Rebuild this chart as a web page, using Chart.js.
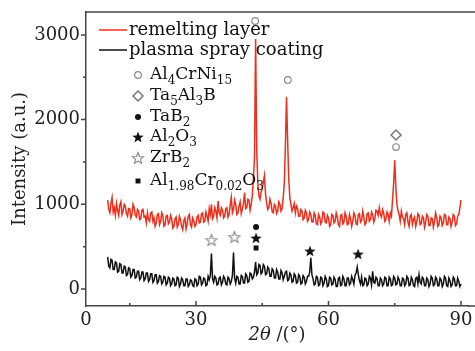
<!DOCTYPE html>
<html>
<head>
<meta charset="utf-8">
<script src="https://cdn.jsdelivr.net/npm/chart.js@4.4.1/dist/chart.umd.min.js"></script>
<style>
  html, body { margin: 0; padding: 0; background: #fff; }
  #wrap { width: 475px; height: 351px; }
</style>
</head>
<body>
<div id="wrap"><canvas id="xrd"></canvas></div>
<script>
// 2θ sampling (degrees), 0.25° step
const twoTheta = [
  10, 10.25, 10.5, 10.75, 11, 11.25, 11.5, 11.75, 12, 12.25, 12.5, 12.75, 13, 13.25, 13.5, 13.75, 14, 14.25, 14.5, 14.75,
  15, 15.25, 15.5, 15.75, 16, 16.25, 16.5, 16.75, 17, 17.25, 17.5, 17.75, 18, 18.25, 18.5, 18.75, 19, 19.25, 19.5, 19.75,
  20, 20.25, 20.5, 20.75, 21, 21.25, 21.5, 21.75, 22, 22.25, 22.5, 22.75, 23, 23.25, 23.5, 23.75, 24, 24.25, 24.5, 24.75,
  25, 25.25, 25.5, 25.75, 26, 26.25, 26.5, 26.75, 27, 27.25, 27.5, 27.75, 28, 28.25, 28.5, 28.75, 29, 29.25, 29.5, 29.75,
  30, 30.25, 30.5, 30.75, 31, 31.25, 31.5, 31.75, 32, 32.25, 32.5, 32.75, 33, 33.25, 33.5, 33.75, 34, 34.25, 34.5, 34.75,
  35, 35.25, 35.5, 35.75, 36, 36.25, 36.5, 36.75, 37, 37.25, 37.5, 37.75, 38, 38.25, 38.5, 38.75, 39, 39.25, 39.5, 39.75,
  40, 40.25, 40.5, 40.75, 41, 41.25, 41.5, 41.75, 42, 42.25, 42.5, 42.75, 43, 43.25, 43.5, 43.75, 44, 44.25, 44.5, 44.75,
  45, 45.25, 45.5, 45.75, 46, 46.25, 46.5, 46.75, 47, 47.25, 47.5, 47.75, 48, 48.25, 48.5, 48.75, 49, 49.25, 49.5, 49.75,
  50, 50.25, 50.5, 50.75, 51, 51.25, 51.5, 51.75, 52, 52.25, 52.5, 52.75, 53, 53.25, 53.5, 53.75, 54, 54.25, 54.5, 54.75,
  55, 55.25, 55.5, 55.75, 56, 56.25, 56.5, 56.75, 57, 57.25, 57.5, 57.75, 58, 58.25, 58.5, 58.75, 59, 59.25, 59.5, 59.75,
  60, 60.25, 60.5, 60.75, 61, 61.25, 61.5, 61.75, 62, 62.25, 62.5, 62.75, 63, 63.25, 63.5, 63.75, 64, 64.25, 64.5, 64.75,
  65, 65.25, 65.5, 65.75, 66, 66.25, 66.5, 66.75, 67, 67.25, 67.5, 67.75, 68, 68.25, 68.5, 68.75, 69, 69.25, 69.5, 69.75,
  70, 70.25, 70.5, 70.75, 71, 71.25, 71.5, 71.75, 72, 72.25, 72.5, 72.75, 73, 73.25, 73.5, 73.75, 74, 74.25, 74.5, 74.75,
  75, 75.25, 75.5, 75.75, 76, 76.25, 76.5, 76.75, 77, 77.25, 77.5, 77.75, 78, 78.25, 78.5, 78.75, 79, 79.25, 79.5, 79.75,
  80, 80.25, 80.5, 80.75, 81, 81.25, 81.5, 81.75, 82, 82.25, 82.5, 82.75, 83, 83.25, 83.5, 83.75, 84, 84.25, 84.5, 84.75,
  85, 85.25, 85.5, 85.75, 86, 86.25, 86.5, 86.75, 87, 87.25, 87.5, 87.75, 88, 88.25, 88.5, 88.75, 89, 89.25, 89.5, 89.75,
  90
];

// remelting layer (red, shifted up); one row per degree
const remelting = [
  1050, 940, 900, 1010,  1080, 910, 960, 870,  1010, 930, 870, 990,  1030, 880, 920, 1000,  980, 890, 860, 950,
  950, 840, 880, 1000,  960, 870, 850, 940,  920, 820, 830, 930,  940, 850, 860, 780,  900, 820, 800, 900,
  910, 800, 840, 740,  780, 880, 890, 760,  800, 900, 860, 740,  760, 860, 870, 770,  790, 870, 830, 720,
  740, 830, 850, 730,  760, 860, 820, 740,  700, 810, 840, 710,  770, 860, 880, 760,  730, 840, 810, 740,
  760, 850, 870, 780,  790, 890, 900, 790,  800, 910, 860, 800,  950, 880, 1000, 830,  860, 960, 920, 840,
  1040, 900, 870, 960,  930, 840, 860, 950,  960, 850, 880, 990,  1080, 900, 940, 1050,  1000, 880, 900, 980,
  1030, 890, 940, 1010,  1140, 950, 960, 1060,  1050, 930, 1000, 1100,  1300, 1550, 2950, 1650,  1250, 1100, 1060, 1150,
  1180, 1260, 1340, 1120,  1020, 940, 960, 1060,  1010, 910, 900, 1000,  980, 890, 920, 1030,  1000, 920, 950, 1080,
  1250, 1700, 2270, 1750,  1300, 1080, 1000, 920,  960, 1010, 900, 980,  950, 860, 860, 940,  920, 820, 840, 930,
  900, 800, 820, 910,  880, 790, 790, 900,  870, 770, 760, 880,  850, 770, 800, 910,  900, 790, 780, 870,
  840, 740, 760, 880,  870, 780, 800, 900,  850, 760, 740, 870,  880, 770, 790, 900,  860, 760, 770, 880,
  830, 740, 800, 900,  870, 770, 760, 880,  890, 790, 810, 920,  850, 760, 780, 890,  900, 800, 820, 910,
  880, 790, 830, 930,  920, 870, 960, 880,  850, 940, 900, 800,  820, 910, 880, 800,  900, 860, 1050, 1250,
  1520, 1200, 1000, 920,  880, 800, 920, 850,  830, 760, 880, 900,  790, 740, 860, 880,  760, 820, 850, 740,
  800, 890, 870, 760,  770, 860, 840, 730,  790, 880, 860, 750,  750, 840, 830, 730,  800, 900, 850, 740,
  760, 860, 840, 750,  780, 880, 870, 760,  760, 850, 830, 740,  790, 880, 860, 750,  770, 860, 880, 960,
  1050
];

// plasma spray coating (black); one row per degree
const plasmaSpray = [
  380, 270, 250, 350,  340, 230, 230, 320,  310, 200, 210, 300,  290, 190, 190, 270,  260, 160, 170, 250,
  240, 140, 160, 230,  230, 130, 140, 210,  210, 110, 130, 200,  200, 100, 120, 190,  190, 90, 110, 180,
  180, 80, 100, 170,  170, 70, 90, 160,  150, 60, 80, 150,  140, 50, 70, 140,  130, 40, 60, 130,
  120, 40, 50, 140,  130, 30, 60, 130,  110, 40, 40, 120,  120, 30, 50, 110,  100, 40, 30, 120,
  110, 40, 60, 150,  140, 50, 70, 130,  120, 40, 50, 150,  110, 160, 420, 120,  80, 150, 130, 50,
  60, 130, 140, 50,  80, 150, 130, 60,  50, 140, 120, 60,  90, 160, 430, 130,  70, 150, 140, 60,
  60, 160, 150, 70,  70, 180, 160, 80,  90, 190, 180, 120,  140, 200, 320, 170,  190, 290, 280, 180,
  200, 290, 270, 170,  180, 260, 240, 150,  150, 240, 220, 130,  130, 230, 200, 120,  120, 220, 190, 110,
  150, 200, 210, 100,  110, 190, 170, 80,  90, 180, 160, 70,  80, 170, 150, 60,  70, 160, 140, 60,
  90, 150, 150, 200,  370, 170, 120, 50,  60, 150, 140, 40,  50, 140, 130, 40,  70, 150, 120, 30,
  40, 140, 130, 50,  60, 140, 110, 30,  30, 130, 140, 40,  50, 150, 120, 40,  40, 130, 130, 50,
  70, 150, 110, 60,  160, 190, 260, 170,  100, 60, 140, 40,  50, 130, 120, 40,  60, 150, 130, 50,
  210, 80, 70, 140,  120, 40, 40, 130,  110, 40, 60, 140,  130, 40, 40, 140,  120, 40, 50, 150,
  130, 50, 60, 140,  110, 40, 40, 130,  120, 40, 60, 150,  130, 40, 50, 140,  110, 40, 30, 130,
  140, 60, 170, 80,  60, 140, 120, 40,  40, 130, 110, 30,  60, 150, 130, 40,  50, 140, 120, 40,
  40, 130, 110, 30,  60, 150, 130, 40,  30, 130, 100, 30,  50, 140, 120, 40,  40, 130, 90, 30,
  60
];

const seriesNames = ["remelting layer", "plasma spray coating"];
// {} marks a subscript
const phaseNames = ["Al{4}CrNi{15}", "Ta{5}Al{3}B", "TaB{2}", "Al{2}O{3}", "ZrB{2}", "Al{1.98}Cr{0.02}O{3}"];

// phase marks above the peaks: [2θ, height]
const al4crni15Marks = [[43.4, 3164], [50.8, 2468], [75.3, 1676]];
const ta5al3bMarks = [[75.3, 1818]];
const tab2Marks = [[43.6, 732]];
const al2o3Marks = [[43.6, 602], [55.8, 449], [66.7, 413]];
const zrb2Marks = [[33.5, 578], [38.7, 614]];
const alcroMarks = [[43.6, 484]];

const yMajorTicks = [0, 1000, 2000, 3000];
const yMinorTicks = [500, 1500, 2500];
const xMajorTicks = [30, 60, 90];
const xMinorTicks = [15, 45, 75];
const X_MIN = 5.1;
const X_MAX = 91.7;

const SERIF = "'DejaVu Serif', 'Liberation Serif', serif";
const RED = "rgb(236, 46, 28)";
const BLACK = "#111";
const GREY = "#8a8a8a";

function makeStar(size, filled, color) {
  const c = document.createElement("canvas");
  c.width = size;
  c.height = size;
  const g = c.getContext("2d");
  const r = size / 2 - 1, ri = r * 0.42;
  g.beginPath();
  for (let i = 0; i < 10; i++) {
    const ang = -Math.PI / 2 + (i * Math.PI) / 5;
    const rr = i % 2 === 0 ? r : ri;
    const px = size / 2 + rr * Math.cos(ang);
    const py = size / 2 + 0.5 + rr * Math.sin(ang);
    if (i === 0) g.moveTo(px, py); else g.lineTo(px, py);
  }
  g.closePath();
  if (filled) {
    g.fillStyle = color;
    g.fill();
  } else {
    g.strokeStyle = color;
    g.lineWidth = 1.1;
    g.stroke();
  }
  return c;
}

const filledStar = makeStar(14, true, BLACK);
const openStar = makeStar(14, false, GREY);

const toPoints = (xs, ys) => xs.map((v, i) => ({ x: v, y: ys[i] }));
const toMarks = (arr) => arr.map(([x, y]) => ({ x, y }));

const markStyles = [
  { data: al4crni15Marks, pointStyle: "circle", radius: 3.3, bg: "#fff", border: GREY, bw: 1.2 },
  { data: ta5al3bMarks, pointStyle: "rectRot", radius: 5, bg: "#fff", border: "#777", bw: 1.5 },
  { data: tab2Marks, pointStyle: "circle", radius: 3, bg: BLACK, border: BLACK, bw: 0 },
  { data: al2o3Marks, pointStyle: filledStar, radius: 6, bg: BLACK, border: BLACK, bw: 0 },
  { data: zrb2Marks, pointStyle: openStar, radius: 6, bg: "#fff", border: GREY, bw: 0 },
  { data: alcroMarks, pointStyle: "rect", radius: 3.5, bg: BLACK, border: BLACK, bw: 0 },
];

function drawRich(ctx, str, x, y, size) {
  const parts = str.split(/(\{[^}]*\})/).filter((s) => s.length);
  parts.forEach((p) => {
    if (p[0] === "{") {
      const t = p.slice(1, -1);
      ctx.font = `${Math.round(size * 0.68)}px ${SERIF}`;
      ctx.fillText(t, x, y + 6);
      x += ctx.measureText(t).width;
    } else {
      ctx.font = `${size}px ${SERIF}`;
      ctx.fillText(p, x, y);
      x += ctx.measureText(p).width;
    }
  });
}

const frameAndLegend = {
  id: "frameAndLegend",
  afterDraw(chart) {
    const { ctx, chartArea: a, scales: { x, y } } = chart;
    ctx.save();

    // top frame line, bottom axis run-out to the edge, tick marks
    ctx.strokeStyle = "#444";
    ctx.lineWidth = 1.5;
    ctx.beginPath();
    ctx.moveTo(a.left, a.top);
    ctx.lineTo(chart.width, a.top);
    ctx.moveTo(a.right - 1, a.bottom);
    ctx.lineTo(chart.width, a.bottom);
    xMajorTicks.forEach((v) => {
      const px = x.getPixelForValue(v);
      ctx.moveTo(px, a.bottom);
      ctx.lineTo(px, a.bottom - 5);
    });
    xMinorTicks.forEach((v) => {
      const px = x.getPixelForValue(v);
      ctx.moveTo(px, a.bottom);
      ctx.lineTo(px, a.bottom - 3);
    });
    yMajorTicks.forEach((v) => {
      const py = y.getPixelForValue(v);
      ctx.moveTo(a.left, py);
      ctx.lineTo(a.left - 5, py);
    });
    yMinorTicks.forEach((v) => {
      const py = y.getPixelForValue(v);
      ctx.moveTo(a.left, py);
      ctx.lineTo(a.left - 3, py);
    });
    ctx.stroke();

    // x axis title: 2θ /(°)
    ctx.fillStyle = "#222";
    ctx.textBaseline = "middle";
    ctx.font = `italic 18px ${SERIF}`;
    const t1 = "2θ";
    const w1 = ctx.measureText(t1).width;
    ctx.font = `18px ${SERIF}`;
    const t2 = " /(°)";
    const w2 = ctx.measureText(t2).width;
    const tx = 277 - (w1 + w2) / 2;
    ctx.font = `italic 18px ${SERIF}`;
    ctx.fillText(t1, tx, 335);
    ctx.font = `18px ${SERIF}`;
    ctx.fillText(t2, tx + w1, 335);

    // legend: the two patterns
    const lineRows = [30, 50];
    const lineColors = [RED, BLACK];
    seriesNames.forEach((name, i) => {
      ctx.strokeStyle = lineColors[i];
      ctx.lineWidth = 1.5;
      ctx.beginPath();
      ctx.moveTo(99, lineRows[i]);
      ctx.lineTo(127, lineRows[i]);
      ctx.stroke();
      ctx.fillStyle = "#111";
      ctx.font = `18px ${SERIF}`;
      ctx.fillText(name, 129, lineRows[i]);
    });

    // legend: phase symbols
    const phaseRows = [75, 96, 117, 137, 158, 181];
    phaseNames.forEach((name, i) => {
      const s = markStyles[i];
      ctx.fillStyle = s.bg;
      ctx.strokeStyle = s.border;
      ctx.lineWidth = s.bw || 1;
      Chart.helpers.drawPoint(ctx, {
        pointStyle: s.pointStyle,
        radius: s.radius,
        rotation: 0,
        borderWidth: s.bw,
      }, 138, phaseRows[i]);
      ctx.fillStyle = "#111";
      drawRich(ctx, name, 150, phaseRows[i], 17);
    });

    ctx.restore();
  },
};

const datasets = [
  {
    label: seriesNames[0],
    data: toPoints(twoTheta, remelting),
    borderColor: RED,
    borderWidth: 1.5,
    pointRadius: 0,
    tension: 0,
  },
  {
    label: seriesNames[1],
    data: toPoints(twoTheta, plasmaSpray),
    borderColor: BLACK,
    borderWidth: 1.5,
    pointRadius: 0,
    tension: 0,
  },
].concat(
  markStyles.map((s, i) => ({
    label: phaseNames[i],
    data: toMarks(s.data),
    showLine: false,
    pointStyle: s.pointStyle,
    pointRadius: s.radius,
    pointBackgroundColor: s.bg,
    pointBorderColor: s.border,
    pointBorderWidth: s.bw,
  }))
);

new Chart(document.getElementById("xrd"), {
  type: "line",
  data: { datasets },
  options: {
    responsive: true,
    maintainAspectRatio: false,
    animation: false,
    layout: { padding: { top: 12, right: 1, left: 0, bottom: 0 } },
    plugins: {
      legend: { display: false },
      tooltip: { enabled: false },
    },
    scales: {
      x: {
        type: "linear",
        min: X_MIN,
        max: X_MAX,
        grid: { display: false, drawTicks: false },
        border: { display: true, color: "#444", width: 1.5 },
        afterBuildTicks: (scale) => {
          scale.ticks = [X_MIN, ...xMinorTicks, ...xMajorTicks]
            .sort((p, q) => p - q)
            .map((v) => ({ value: v }));
        },
        afterFit: (scale) => {
          scale.height = 45;
          scale.paddingLeft = 0;
          scale.paddingRight = 0;
        },
        ticks: {
          autoSkip: false,
          maxRotation: 0,
          padding: 4,
          color: "#222",
          font: { family: SERIF, size: 18 },
          callback: (v) => (v === X_MIN ? "0" : xMajorTicks.includes(v) ? String(v) : ""),
        },
      },
      y: {
        min: -200,
        max: 3270,
        grid: { display: false, drawTicks: false },
        border: { display: true, color: "#444", width: 1.5 },
        afterBuildTicks: (scale) => {
          scale.ticks = [...yMajorTicks, ...yMinorTicks]
            .sort((p, q) => p - q)
            .map((v) => ({ value: v }));
        },
        afterFit: (scale) => {
          scale.width = 86;
          scale.paddingTop = 0;
          scale.paddingBottom = 0;
        },
        title: {
          display: true,
          text: "Intensity (a.u.)",
          color: "#222",
          font: { family: SERIF, size: 18 },
          padding: { top: 10, bottom: 0 },
        },
        ticks: {
          autoSkip: false,
          padding: 6,
          color: "#222",
          font: { family: SERIF, size: 18 },
          callback: (v) => (yMajorTicks.includes(v) ? String(v) : ""),
        },
      },
    },
  },
  plugins: [frameAndLegend],
});
</script>
</body>
</html>
